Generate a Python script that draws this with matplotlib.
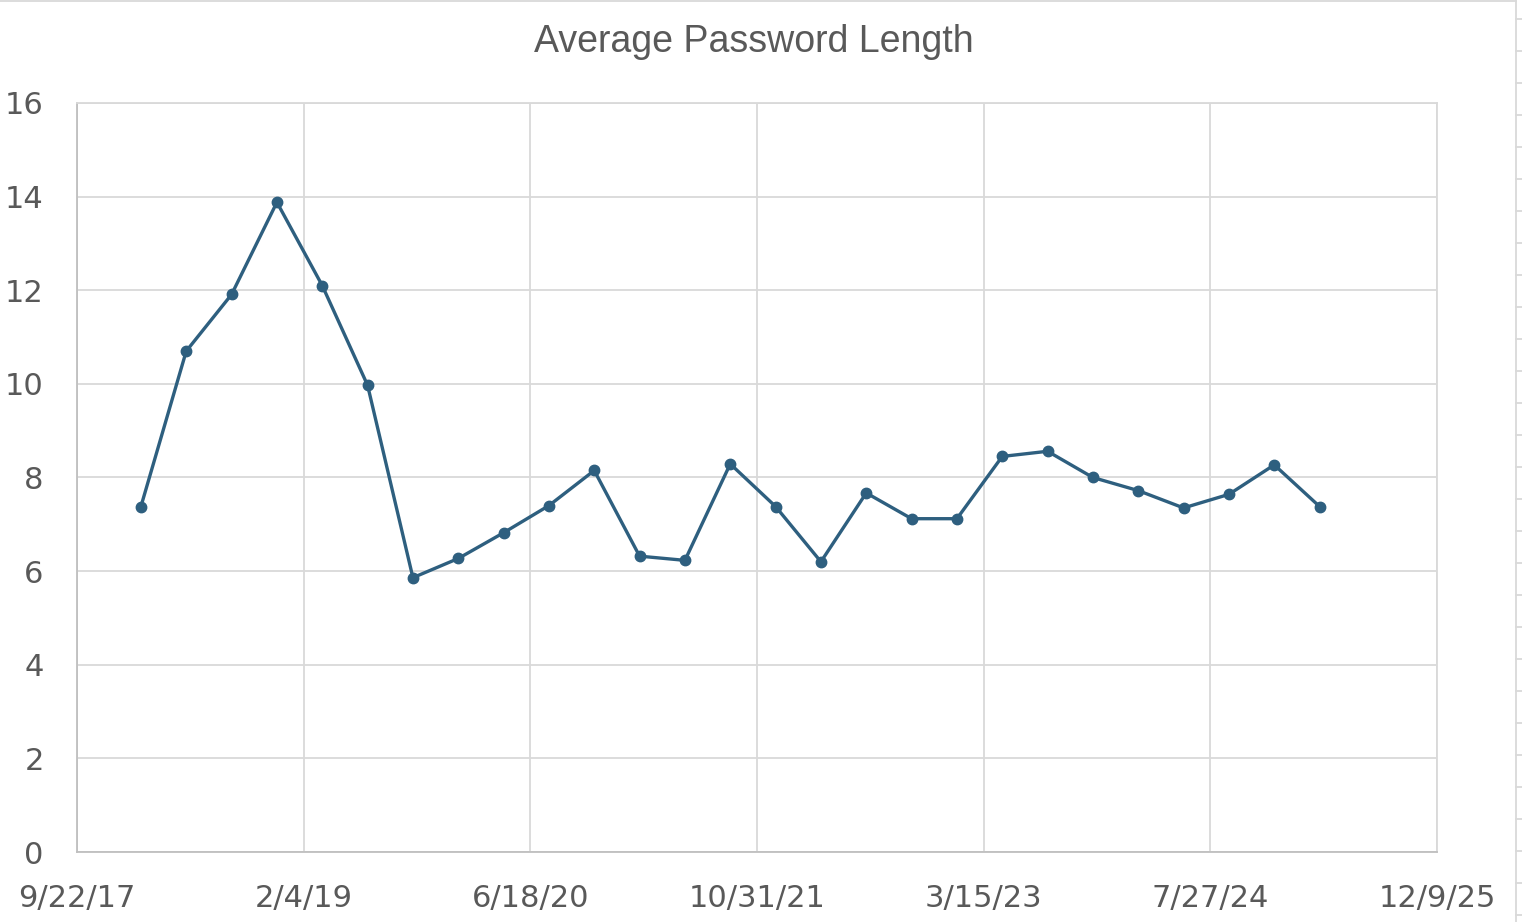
import matplotlib
matplotlib.use("Agg")
import matplotlib.pyplot as plt
from matplotlib.lines import Line2D
from datetime import date

# survey dates and average password length
dates = ["2018-02-10", "2018-05-21", "2018-08-29", "2018-12-07", "2019-03-17",
         "2019-06-25", "2019-10-03", "2020-01-11", "2020-04-20", "2020-07-29",
         "2020-11-06", "2021-02-14", "2021-05-25", "2021-09-02", "2021-12-11",
         "2022-03-21", "2022-06-29", "2022-10-07", "2023-01-15", "2023-04-25",
         "2023-08-03", "2023-11-11", "2024-02-19", "2024-05-29", "2024-09-06",
         "2024-12-15", "2025-03-25"]
avg_len = [7.38, 10.70, 11.91, 13.88, 12.10, 9.97, 5.86, 6.27, 6.82, 7.40,
           8.15, 6.32, 6.23, 8.29, 7.38, 6.20, 7.67, 7.12, 7.12, 8.45,
           8.56, 8.00, 7.72, 7.35, 7.64, 8.27, 7.38]

tick_dates = ["2017-09-22", "2019-02-04", "2020-06-18", "2021-10-31",
              "2023-03-15", "2024-07-27", "2025-12-09"]
y_ticks = [0, 2, 4, 6, 8, 10, 12, 14, 16]

x = [date.fromisoformat(d) for d in dates]
xt = [date.fromisoformat(d) for d in tick_dates]
xt_labels = [f"{d.month}/{d.day}/{d.year % 100:02d}" for d in xt]

line_col = "#2E5F7F"
grid_col = "#D9D9D9"
text_col = "#595959"

fig = plt.figure(figsize=(15.22, 9.22), dpi=100)
ax = fig.add_axes([77 / 1522, 70 / 922, 1360 / 1522, 749 / 922])

ax.plot(x, avg_len, color=line_col, lw=2.4, marker="o", ms=7.5,
        markerfacecolor=line_col, markeredgecolor=line_col, zorder=3)

ax.set_xlim(xt[0], xt[-1])
ax.set_ylim(0, 16)
ax.set_xticks(xt)
ax.set_xticklabels(xt_labels)
ax.set_yticks(y_ticks)
ax.set_yticklabels([str(v) for v in y_ticks])

ax.grid(True, color=grid_col, lw=1.3)
ax.set_axisbelow(True)
for s in ["top", "right"]:
    ax.spines[s].set_color(grid_col)
    ax.spines[s].set_linewidth(1.3)
for s in ["left", "bottom"]:
    ax.spines[s].set_color("#BFBFBF")
    ax.spines[s].set_linewidth(1.3)

ax.tick_params(axis="both", length=0, labelcolor=text_col, labelsize=22)
ax.tick_params(axis="x", pad=23)
ax.tick_params(axis="y", pad=24)
for lab in ax.get_xticklabels() + ax.get_yticklabels():
    lab.set_family(["DejaVu Sans"])

fig.text(754 / 1522, 1 - 42 / 922, "Average Password Length", ha="center", va="center",
         fontsize=27, color=text_col, family=["Liberation Sans"])

# outer sheet border and row lines at the right edge
fig.add_artist(Line2D([0, 1516 / 1522], [1 - 1 / 922, 1 - 1 / 922], color=grid_col, lw=1.3))
fig.add_artist(Line2D([1516 / 1522, 1516 / 1522], [0, 1 - 1 / 922], color=grid_col, lw=1.3))
for yy in range(19, 922, 32):
    fig.add_artist(Line2D([1516 / 1522, 1], [1 - yy / 922, 1 - yy / 922], color=grid_col, lw=1.3))

fig.savefig("out.png", dpi=100)
